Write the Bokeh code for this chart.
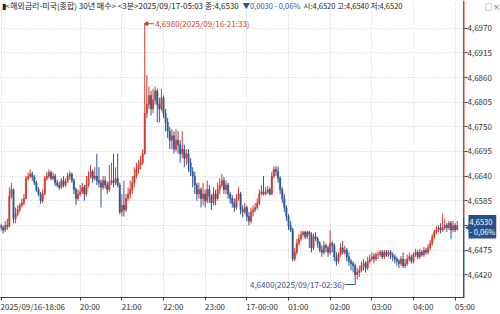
from bokeh.plotting import figure
from bokeh.models import (Range1d, FixedTicker, LinearAxis, CustomJSTickFormatter, Label,
                          ColumnDataSource, Grid, GridBox, Column)
from bokeh.core.properties import value
from bokeh.embed import file_html
from bokeh.resources import INLINE

# Prices are written in units of 0.0001 above 4.6000 (e.g. 530 -> 4.6530)
PRICE_BASE = 4.6
PRICE_UNIT = 0.0001

opens = [530,525,520,530,528,595,610,545,555,565, 575,580,590,635,640,645,638,625,610,600,
         585,600,635,640,648,635,640,625,620,615, 630,620,628,640,645,630,610,590,600,605,
         615,600,620,640,650,635,640,630,625,615, 630,620,610,625,630,625,635,620,560,575,
         565,590,600,610,625,640,655,665,670,690, 780,800,820,790,810,830,800,790,815,780,
         760,740,720,730,700,720,710,690,700,680, 690,670,650,640,620,600,610,590,600,585,
         610,595,580,600,590,610,620,630,610,620, 600,590,580,570,590,600,565,560,570,550,
         540,560,565,570,580,600,605,600,605,610, 600,640,655,650,635,610,590,570,550,530,
         520,455,470,490,500,510,515,505,515,510, 480,505,500,490,475,470,485,480,470,490,
         485,460,450,465,480,470,475,460,450,445, 440,420,425,430,440,445,435,450,455,460,
         455,465,465,470,460,470,465,470,465,460, 455,450,445,455,440,445,455,460,450,465,
         470,460,470,465,475,470,480,490,505,515, 520,525,520,525,530,525,535,520,530,520]
closes = [525,520,530,528,595,610,545,555,565,575, 580,590,635,640,645,638,625,610,600,585,
          600,635,640,648,635,640,625,620,615,630, 620,628,640,645,630,610,590,600,605,615,
          600,620,640,650,635,640,630,625,615,630, 620,610,625,630,625,635,620,560,575,565,
          590,600,610,625,640,655,665,670,690,780, 800,820,790,810,830,800,790,815,780,760,
          740,720,730,700,720,710,690,700,680,690, 670,650,640,620,600,610,590,600,585,610,
          595,580,600,590,610,620,630,610,620,600, 590,580,570,590,600,565,560,570,550,540,
          560,565,570,580,600,605,600,605,610,600, 640,655,650,635,610,590,570,550,530,520,
          455,470,490,500,510,515,505,515,510,480, 505,500,490,475,470,485,480,470,490,485,
          460,450,465,480,470,475,460,450,445,440, 420,425,430,440,445,435,450,455,460,455,
          465,465,470,460,470,465,470,465,460,455, 450,445,455,440,445,455,460,450,465,470,
          460,470,465,475,470,480,490,505,515,520, 525,520,525,530,525,535,520,530,520,530]
highs = [535,530,540,545,615,625,612,570,575,580, 590,600,640,648,655,650,642,630,615,605,
         610,640,650,655,652,648,645,632,628,635, 640,635,648,652,648,635,615,610,620,625,
         620,640,650,665,655,660,690,660,632,640, 640,628,665,670,690,660,690,625,600,630,
         600,615,630,640,660,670,675,685,700,980, 865,840,830,835,840,835,815,835,820,790,
         770,750,745,740,745,740,720,740,710,700, 700,680,660,650,625,625,615,625,610,630,
         620,600,615,610,625,635,645,638,630,625, 605,598,590,600,615,605,575,580,575,560,
         570,575,580,590,610,620,640,615,618,615, 650,662,662,662,640,615,600,575,555,540,
         525,480,500,510,518,518,518,518,518,515, 512,515,505,495,485,495,490,485,520,495,
         490,470,470,490,495,485,480,470,455,450, 445,435,440,450,455,450,460,465,470,468,
         470,472,475,475,475,475,475,475,470,465, 460,455,462,470,455,465,470,465,470,478,
         475,478,475,482,480,488,498,510,520,528, 530,535,557,545,535,540,540,540,535,540]
lows = [518,512,515,520,525,590,535,535,550,560, 570,575,588,630,635,630,620,605,595,578,
        580,598,630,635,630,630,618,615,610,612, 615,615,625,632,625,600,575,585,595,600,
        585,595,615,635,625,630,620,615,570,610, 612,600,605,620,615,620,615,555,550,550,
        560,585,590,600,615,635,645,655,665,688, 770,790,775,780,800,760,760,785,770,740,
        725,700,700,690,695,690,670,680,660,665, 650,640,615,600,585,590,570,575,570,580,
        580,565,575,575,585,600,615,600,600,590, 578,570,560,565,585,555,548,555,540,530,
        535,550,560,565,575,597,597,597,600,597, 598,635,640,625,600,580,560,540,520,515,
        450,450,465,485,495,505,500,500,480,470, 475,495,480,470,460,465,470,460,465,470,
        450,440,445,460,465,465,450,440,430,425, 400,410,415,425,430,425,430,445,450,445,
        450,455,460,455,455,460,460,455,450,445, 440,435,440,435,435,440,450,445,445,460,
        455,455,460,460,465,465,475,485,500,510, 515,512,515,520,515,520,500,515,515,520]

x_tick_bars = [0, 38, 58, 78, 98, 118, 138, 158, 178, 198, 218]
x_tick_labels = ["2025/09/16-18:06", "20:00", "21:00", "22:00", "23:00", "17-00:00",
                 "01:00", "02:00", "03:00", "04:00", "05:00"]
y_ticks = [4.6420, 4.6475, 4.6530, 4.6585, 4.6640, 4.6695, 4.6750, 4.6805, 4.6860, 4.6915, 4.6970]

high_value, high_bar, high_text = 4.6980, 69, "4,6980(2025/09/16-21:33)"
low_value, low_bar, low_text = 4.6400, 170, "4,6400(2025/09/17-02:36)"
last_price = 4.6530
last_box_text = "4,6530\n- 0,06%"
header_main = "\u25ae<해외금리-미국(종합) 30년 매수> <3분>2025/09/17-05:03 종:4,6530"
header_change = "\u25bc0,0030 - 0,06%"
header_rest = "시:4,6520 고:4,6540 저:4,6520"

RED = "#cf3b2e"
BLUE = "#2f5597"
BOX_BLUE = "#2b4f8c"
FONT = "Noto Sans CJK KR"

o = [PRICE_BASE + v * PRICE_UNIT for v in opens]
c = [PRICE_BASE + v * PRICE_UNIT for v in closes]
h = [PRICE_BASE + v * PRICE_UNIT for v in highs]
l = [PRICE_BASE + v * PRICE_UNIT for v in lows]
n = len(c)
colors = [RED if c[i] >= o[i] else BLUE for i in range(n)]
src = ColumnDataSource(dict(x=list(range(n)), o=o, c=c, h=h, l=l,
                            top=[max(a, b) for a, b in zip(o, c)],
                            bottom=[min(a, b) for a, b in zip(o, c)],
                            color=colors))

W, H = 500, 314
FRAME_W, FRAME_H = 464, 300
X0, X1 = -0.24, 222.48
Y1 = 4.70319
Y0 = Y1 - FRAME_H / 4527.0
px_x = FRAME_W / (X1 - X0)
px_y = FRAME_H / (Y1 - Y0)

p = figure(width=W, height=H, x_range=Range1d(X0, X1), y_range=Range1d(Y0, Y1),
           output_backend="svg", toolbar_location=None, x_axis_type=None, y_axis_type=None,
           min_border_left=0, min_border_right=W - FRAME_W, min_border_top=0,
           min_border_bottom=H - FRAME_H,
           background_fill_color="white", border_fill_color="white", outline_line_color=None)


def left_pad(s):
    # centred tick labels are shifted so that they start at their tick
    if s == x_tick_labels[0]:
        return s
    w = sum(4.4 if ch.isdigit() else 2.4 for ch in s)
    return "\u00a0" * int(round(w / 1.79)) + s


xfmt = CustomJSTickFormatter(args=dict(pos=x_tick_bars, labels=[left_pad(s) for s in x_tick_labels]),
                             code="const k = pos.indexOf(Math.round(tick)); return k >= 0 ? labels[k] : '';")
xaxis = LinearAxis(ticker=FixedTicker(ticks=x_tick_bars), formatter=xfmt,
                   axis_line_color="#444444", major_tick_out=3, major_tick_in=0,
                   minor_tick_out=0, minor_tick_in=0, major_tick_line_color="#444444",
                   major_label_text_font=FONT, major_label_text_font_size="8px",
                   major_label_text_color="#333333", major_label_standoff=0)
p.add_layout(xaxis, "below")

yfmt = CustomJSTickFormatter(code="return tick.toFixed(4).replace('.', ',');")
yaxis = LinearAxis(ticker=FixedTicker(ticks=y_ticks), formatter=yfmt,
                   axis_line_color=None, major_tick_out=3, major_tick_in=0,
                   minor_tick_out=0, minor_tick_in=0, major_tick_line_color="#444444",
                   major_label_text_font=FONT, major_label_text_font_size="8px",
                   major_label_text_color="#333333", major_label_standoff=0)
p.add_layout(yaxis, "right")

p.add_layout(Grid(dimension=0, ticker=xaxis.ticker, grid_line_color="#c8c8c8",
                  grid_line_dash="1 2", grid_line_width=1))
p.add_layout(Grid(dimension=1, ticker=yaxis.ticker, grid_line_color="#c8c8c8",
                  grid_line_dash="1 2", grid_line_width=1))

# candles
p.segment(x0="x", y0="l", x1="x", y1="h", source=src, line_color="color", line_width=1)
p.vbar(x="x", top="top", bottom="bottom", width=0.6, source=src,
       fill_color="color", line_color="color", line_width=0.6)

# high / low markers
p.segment(x0=[high_bar], y0=[high_value], x1=[high_bar + 4.5], y1=[high_value],
          line_color=RED, line_width=1)
p.scatter(x=[high_bar + 0.9], y=[high_value], marker="triangle", angle=1.5708,
          size=4, fill_color=RED, line_color=RED)
p.text(x=[high_bar + 5], y=[high_value], text=[high_text], text_color=RED,
       text_font=value(FONT), text_font_size="8px", text_baseline="middle", text_align="left")

low_line_y = low_value - 0.00018
p.segment(x0=[low_bar, low_bar - 5], y0=[low_value, low_line_y], x1=[low_bar, low_bar],
          y1=[low_line_y, low_line_y], line_color=BLUE, line_width=1)
p.text(x=[low_bar - 5.2], y=[low_line_y], text=[low_text], text_color=BLUE,
       text_font=value(FONT), text_font_size="8px", text_baseline="middle", text_align="right")

# right-hand axis line: red above the last-price box, blue below
xa = X1 - 0.25
switch_y = last_price + 9 / px_y
p.segment(x0=[xa, xa], y0=[Y1, switch_y], x1=[xa, xa], y1=[switch_y, Y0],
          line_color=[RED, BLUE], line_width=2)

# header
hy = Y1 - 5.5 / px_y


def sx(px):
    return px / px_x + X0


p.add_layout(Label(x=sx(1), y=hy, text=header_main, text_color="#222222", text_font=FONT,
                   text_font_size="8px", text_baseline="middle", background_fill_color="white"))
p.add_layout(Label(x=sx(242), y=hy, text=header_change, text_color=BLUE, text_font=FONT,
                   text_font_size="7.5px", text_baseline="middle", background_fill_color="white"))
p.add_layout(Label(x=sx(303), y=hy, text=header_rest, text_color="#222222", text_font=FONT,
                   text_font_size="7.5px", text_baseline="middle", background_fill_color="white"))

# transparent overlay with the same scales, extended over the right-hand axis area
q = figure(width=W, height=H,
           x_range=Range1d(X0, X0 + W / px_x), y_range=Range1d(Y1 - H / px_y, Y1),
           output_backend="svg", toolbar_location=None, x_axis_type=None, y_axis_type=None,
           min_border=0, outline_line_color=None,
           background_fill_color=None, border_fill_color=None)
q.grid.visible = False
q.add_layout(Label(x=X1, y=last_price, x_offset=0, y_offset=1, text="\u25c0", text_color=BOX_BLUE,
                   text_font=FONT, text_font_size="7px", text_baseline="middle", text_align="left"))
q.add_layout(Label(x=X1, y=last_price, x_offset=4, y_offset=1, text=last_box_text, text_color="white",
                   text_font=FONT, text_font_size="7.5px", text_line_height=0.95,
                   text_baseline="middle", text_align="left",
                   background_fill_color=BOX_BLUE, padding=1))
q.add_layout(Label(x=sx(484), y=hy, text="\u25a1\u00d7", text_color="#555555", text_font=FONT,
                   text_font_size="8px", text_baseline="middle"))

layout = GridBox(children=[(p, 0, 0), (Column(children=[q]), 0, 0)])
open("out.html", "w").write(file_html(layout, INLINE))
